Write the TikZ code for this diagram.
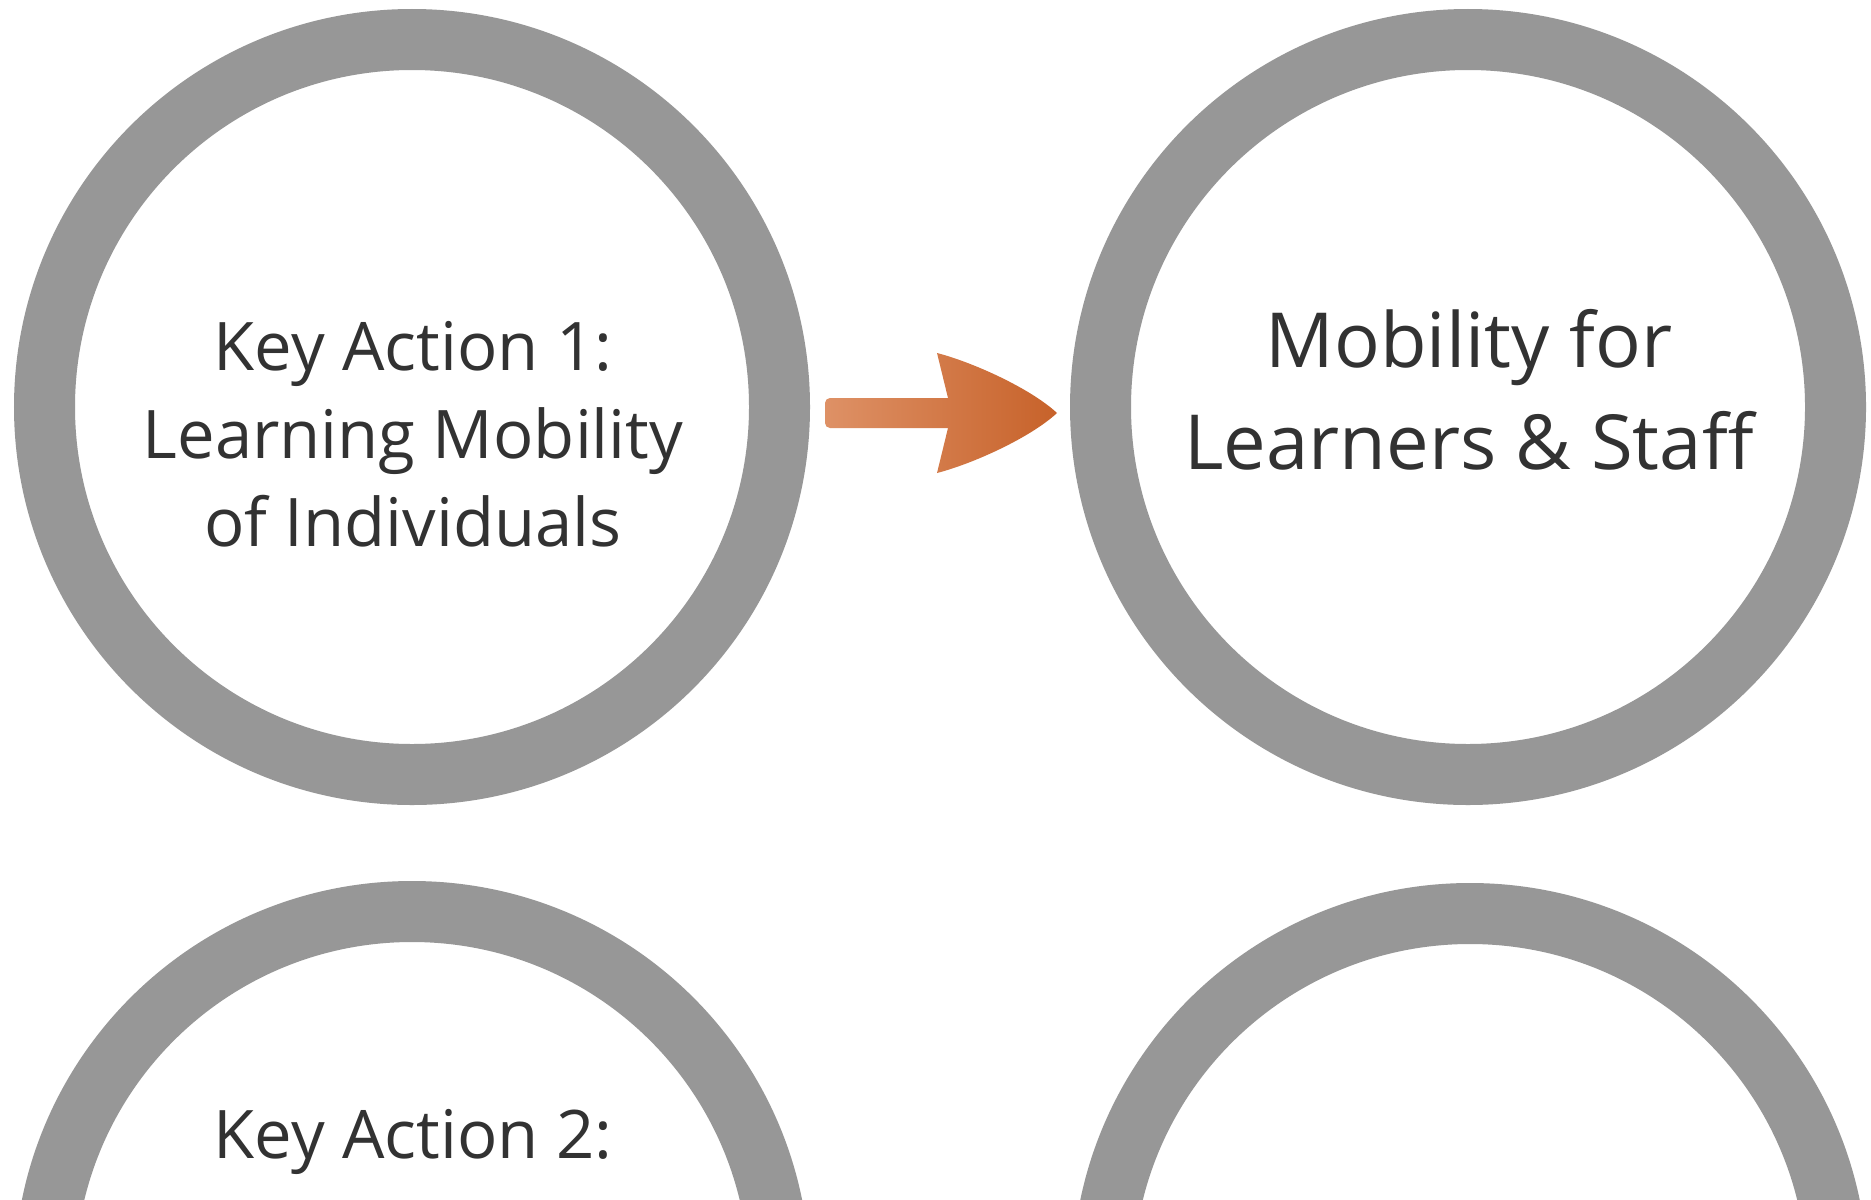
\documentclass[tikz,border=0pt]{standalone}
\usepackage{fontspec}
\setmainfont{Open Sans}
\definecolor{ringgray}{RGB}{151,151,151}
\definecolor{txt}{RGB}{50,50,50}
\definecolor{arrL}{RGB}{222,145,102}
\definecolor{arrR}{RGB}{199,98,42}
\begin{document}
\begin{tikzpicture}[x=0.5pt,y=-0.5pt,
  ringnode/.style={circle, draw=ringgray, line width=30.5pt, minimum size=367.5pt, inner sep=0pt},
  smalltxt/.style={text=txt, align=center, font=\fontsize{33.5}{44}\selectfont, inner sep=0pt},
  bigtxt/.style={text=txt, align=center, font=\fontsize{38}{51}\selectfont, inner sep=0pt},
  arrowfill/.style={left color=arrL, right color=arrR}]
\useasboundingbox (0,0) rectangle (1871,1199);
\clip (0,0) rectangle (1871,1199);
\fill[white] (0,0) rectangle (1871,1199);
\node[ringnode] (c1) at (412,407) {};
\node[ringnode] (c2) at (1468,407) {};
\node[ringnode] (c3) at (412,1279) {};
\node[ringnode] (c4) at (1470,1281) {};
\node[smalltxt] (t1) at (413,434) {Key Action 1:\\Learning Mobility\\of Individuals};
\node[bigtxt] (t2) at (1469,390) {Mobility for\\Learners \& Staff};
\node[smalltxt, anchor=base] (t3) at (413,1158) {Key Action 2:};
\coordinate (as) at (825,413);
\coordinate (ae) at (1057,413);
\shade[arrowfill] (948,398) -- (937,353) .. controls (972,362) and (1030,388) .. (ae)
  .. controls (1030,438) and (972,464) .. (937,473) -- (948,428)
  [rounded corners=2.5pt] -- (as |- 0,428) -- (as |- 0,398) -- (880,398) [sharp corners] -- cycle;
\end{tikzpicture}
\end{document}
